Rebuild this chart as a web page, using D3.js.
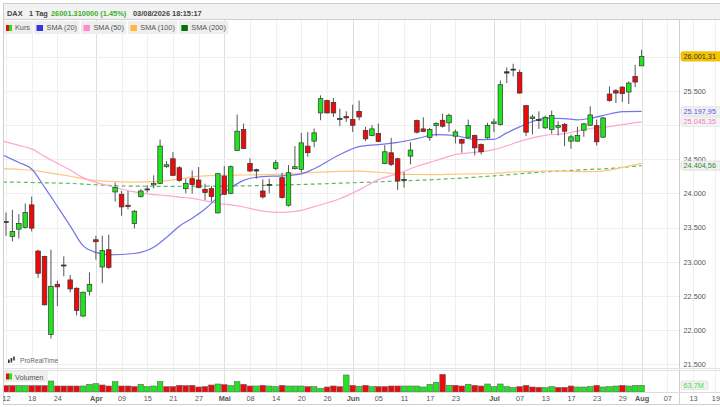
<!DOCTYPE html>
<html lang="de">
<meta charset="utf-8">
<title>DAX 1 Tag</title>
<style>
    body { margin: 0; background: #fff; }
    svg  { display: block; font-family: "Liberation Sans", Arial, sans-serif; }
</style>
<body>
<svg id="canvas"></svg>
<script src="https://cdn.jsdelivr.net/npm/d3@7"></script>
<script>

    ///////////////////// Data ////////////////////////
    // daily candles, index 0 = 12 Mar ... index 99 = 03 Aug
    var opens  = [23573,23369,23476,23500,23831,23156,23078,21938,22670,22952,
                  22734,22612,22205,22569,23321,22923,23175,24020,23986,23826,
                  23559,23952,24054,24122,24146,24389,24505,24374,24068,24214,
                  24195,24059,24068,23714,24253,24000,24627,24932,24437,24326,
                  24034,24122,24365,24229,23826,24360,24350,24690,24763,25175,
                  25355,25330,25083,25122,25078,25199,24918,24845,24874,24437,
                  24593,24505,24199,24544,25063,24942,24816,24991,25068,25030,
                  24835,24787,24811,24845,24714,24811,25020,25005,25758,25806,
                  25767,25282,25093,25078,24957,24932,24966,25005,24763,24763,
                  24923,24995,24991,24821,25452,25500,25554,25481,25709,25864];
    var highs  = [23719,23758,23695,23850,23952,23175,23088,23175,22724,23078,
                  22806,22627,22564,22845,23379,23379,23394,24156,24034,24034,
                  23758,24059,24117,24263,24787,24471,24602,24398,24214,24335,
                  24384,24141,24107,24297,24398,24408,25151,25020,24510,24360,
                  24204,24214,24486,24301,24413,24690,24884,24894,24947,25432,
                  25369,25394,25238,25199,25296,25355,24971,24995,25020,24704,
                  24811,24520,24311,24748,25078,25112,24957,25039,25165,25165,
                  24932,24801,25078,24860,24729,25030,25093,25651,25840,25894,
                  25806,25282,25151,25199,25136,25209,25054,25030,24860,24971,
                  25030,25272,25078,25117,25563,25525,25563,25636,25879,26097];
    var lows   = [23379,23297,23340,23486,23442,22763,22360,21874,22350,22787,
                  22554,22214,22195,22505,23030,22685,22894,23879,23670,23767,
                  23486,23937,24010,24073,24136,24374,24253,24170,24000,23996,
                  24073,23903,23879,23704,23976,23986,24617,24650,24311,24214,
                  23923,24000,24340,23923,23806,24350,24301,24534,24675,25068,
                  25170,25117,24981,25044,24898,25068,24763,24835,24748,24428,
                  24398,24049,24083,24423,24874,24898,24767,24835,24962,24898,
                  24729,24593,24801,24554,24568,24796,24894,24991,25612,25709,
                  25457,24835,24860,24942,24942,24869,24845,24690,24651,24753,
                  24826,24991,24699,24811,25340,25321,25335,25306,25554,25864];
    var closes = [23588,23442,23559,23719,23491,22831,22370,22641,22632,22945,
                  22602,22287,22554,22670,23292,23166,22918,24083,23801,23806,
                  23738,24034,24064,24146,24690,24418,24263,24190,24146,24127,
                  24083,24010,23952,24287,23986,24389,24908,24656,24326,24345,
                  23947,24131,24447,23937,24301,24389,24738,24593,24884,25384,
                  25175,25175,25093,25102,24995,25117,24796,24942,24758,24607,
                  24423,24180,24204,24632,24894,24903,24932,25020,24981,25141,
                  24898,24733,24991,24665,24607,24991,25044,25588,25777,25816,
                  25466,24894,25117,25063,25112,25136,24991,24908,24826,24845,
                  25015,25146,24753,25102,25355,25466,25457,25612,25627,26001.31];

    // volume in millions, and bar colour (1 = up, 0 = down)
    var volumes = [60.5,60.5,60.5,60.5,60.5,60.5,60.5,105,57.3,57.3,
                   57.3,57.3,57.3,73.3,79.6,66.9,57.3,98.7,57.3,57.3,
                   51.0,73.3,51.0,57.3,98.7,51.0,51.0,63.7,60.5,63.7,
                   47.8,51.0,66.9,76.4,70.1,60.5,98.7,73.3,57.3,57.3,
                   63.7,57.3,51.0,63.7,57.3,57.3,57.3,51.0,51.0,35.0,
                   47.8,57.3,51.0,162.4,63.7,54.1,63.7,51.0,51.0,51.0,
                   57.3,57.3,57.3,57.3,57.3,47.8,73.3,92.4,168.8,63.7,
                   63.7,57.3,73.3,63.7,57.3,76.4,51.0,76.4,51.0,41.4,
                   51.0,63.7,47.8,44.6,41.4,51.0,44.6,44.6,57.3,47.8,
                   47.8,51.0,63.7,47.8,51.0,57.3,63.7,57.3,63.7,63.7];
    var volUp   = [0,0,1,1,0,0,0,1,0,0, 0,0,1,1,1,0,0,1,0,0,
                   0,1,1,1,1,0,0,0,0,0, 0,0,0,1,0,1,1,0,0,1,
                   0,1,1,0,1,1,1,0,1,1, 0,0,0,1,0,1,0,1,0,0,
                   0,0,1,1,1,1,1,1,0,1, 0,0,1,0,0,1,1,1,1,1,
                   0,0,0,0,1,1,0,0,0,1, 1,1,0,1,1,1,0,1,1,1];

    // moving averages at these candle positions
    var smaIdx = [-0.5,2,4,6,8,10,12,14,16,20,23,25,27,29,31,33,35,37,40,43,
                  46,48,52,55,58,61,64,67,70,73,76,78,80,82,84,87,89,91,94,96,99];
    var sma20  = [24560,24450,24355,24090,23810,23525,23234,23136,23100,23120,
                  23210,23355,23520,23635,23770,23940,24080,24190,24245,24255,
                  24285,24360,24568,24682,24712,24745,24800,24858,24845,24785,
                  24790,24884,24971,25050,25100,25093,25075,25095,25160,25195,25197.95];
    var sma50  = [24765,24700,24650,24540,24440,24340,24230,24160,24110,24020,
                  23980,23965,23945,23925,23890,23855,23830,23800,23740,23720,
                  23750,23805,23920,24050,24200,24285,24395,24480,24565,24598,
                  24640,24695,24760,24810,24848,24872,24910,24948,24975,25005,25045.35];
    var sma100 = [24360,24350,24337,24310,24280,24250,24215,24185,24175,24165,
                  24172,24185,24210,24240,24255,24262,24265,24268,24274,24282,
                  24292,24305,24322,24325,24308,24285,24275,24272,24282,24283,
                  24290,24305,24315,24322,24326,24323,24318,24316,24340,24378,24437];
    var sma200 = [24165,24162,24158,24154,24150,24145,24135,24125,24115,24105,
                  24103,24102,24103,24104,24105,24106,24107,24108,24115,24122,
                  24129,24135,24148,24158,24168,24180,24190,24202,24217,24235,
                  24255,24270,24285,24300,24315,24330,24340,24350,24362,24380,24404.56];

    // date axis
    var tickIdx    = [0,4,8,14,18,22,26,30,34,38,42,46,50,54,58,62,66,70,
                      76,80,84,88,92,96,99,103,107,110.5];
    var tickLabels = ["12","18","24","Apr","09","15","21","27","Mai","08","14","20","26","Jun",
                      "05","11","17","23","Jul","07","13","17","23","29","Aug","07","13","19"];
    var monthLabels = ["Apr","Mai","Jun","Jul","Aug"];
    var priceTicks = [21500,22000,22500,23000,23500,24000,24500,25000,25500,26000];
    // ticks whose label sits under a value box
    var hiddenTicks = [25000,26000];

    var seriesNames = ["Kurs","SMA (20)","SMA (50)","SMA (100)","SMA (200)"];
    ///////////////////////////////////////////////////

    ///////// Position and Dimension Variables ////////
    var dimensions  = [720, 407];
    var frame_l     = 3.5;
    var frame_t     = 3.5;
    var frame_b     = 404.5;
    var head_h      = 16;
    var plot_top    = 20;
    var plot_bot    = 368;
    var axis_x      = 679.5;
    var vol_top     = 370;
    var vol_bot     = 392;
    var body_w      = 4.6;
    var vbar_w      = 5.6;
    ///////////////////////////////////////////////////

    ///////////////// Style Variables /////////////////
    var up_color     = '#1ee61e';
    var down_color   = '#ee0a0a';
    var edge_color   = '#333';
    var wick_color   = '#555';
    var grid_color   = '#efefef';
    var month_grid   = '#dedede';
    var line_color   = '#cfcfcf';
    var text_color   = '#555';
    var head_color   = '#444';
    var head_green   = '#3aae2a';
    var sma_colors   = ['#7474ec', '#ffa6d2', '#ffc77e', '#5cb85c'];
    var swatches     = [null, '#3535dc', '#ff8cc6', '#ffb83a', '#0a6e0a'];
    var label_colors = ['#5656e6', '#f27cba', null, '#2f8a2f'];
    var font_size    = 7.3;
    ///////////////////////////////////////////////////

    var de = d3.formatLocale({decimal: ",", thousands: ".", grouping: [3], currency: ["", "€"]});
    var fmtTick  = de.format(",.0f");
    var fmtValue = de.format(",.2f");
    var fmtVol   = de.format(".1f");

    var xScale = d3.scaleLinear().domain([0, 99]).range([6, 641.6]);
    var yScale = d3.scaleLinear().domain([21446, 26534]).range([plot_bot, plot_top]);
    var vScale = d3.scaleLinear().domain([0, 210]).range([vol_bot, vol_top]);

    var canvas = d3.select("#canvas")
        .attr('width',  dimensions[0])
        .attr('height', dimensions[1])
        .style('background-color', '#fff');

    canvas.append("clipPath").attr('id', 'plotclip')
        .append("rect")
        .attr('x', frame_l).attr('y', plot_top)
        .attr('width', axis_x - frame_l).attr('height', plot_bot - plot_top);

    //////////////////// grid /////////////////////////
    var grid = canvas.append("g");
    grid.selectAll(".vgrid")
        .data(tickIdx)
        .enter().append("line")
        .attr('x1', function (d) { return Math.round(xScale(d)) + 0.5; })
        .attr('x2', function (d) { return Math.round(xScale(d)) + 0.5; })
        .attr('y1', plot_top)
        .attr('y2', vol_bot)
        .attr('stroke', function (d, i) {
            return monthLabels.indexOf(tickLabels[i]) >= 0 ? month_grid : grid_color;
        });
    grid.selectAll(".hgrid")
        .data(priceTicks)
        .enter().append("line")
        .attr('x1', frame_l)
        .attr('x2', axis_x)
        .attr('y1', function (d) { return Math.round(yScale(d)) + 0.5; })
        .attr('y2', function (d) { return Math.round(yScale(d)) + 0.5; })
        .attr('stroke', grid_color);
    ///////////////////////////////////////////////////

    //////////////// moving averages //////////////////
    var plot = canvas.append("g").attr('clip-path', 'url(#plotclip)');
    [sma200, sma100, sma50, sma20].forEach(function (series, k) {
        var ci = 3 - k;
        var line = d3.line()
            .x(function (d, i) { return xScale(smaIdx[i]); })
            .y(function (d) { return yScale(d); })
            .curve(d3.curveMonotoneX);
        plot.append("path")
            .datum(series)
            .attr('d', line)
            .attr('fill', 'none')
            .attr('stroke', sma_colors[ci])
            .attr('stroke-width', 1.2)
            .attr('stroke-dasharray', ci == 3 ? '4,3' : null);
    });
    ///////////////////////////////////////////////////

    //////////////////// candles //////////////////////
    var candles = plot.selectAll(".candle")
        .data(closes)
        .enter().append("g");
    candles.append("line")
        .attr('x1', function (d, i) { return xScale(i); })
        .attr('x2', function (d, i) { return xScale(i); })
        .attr('y1', function (d, i) { return yScale(highs[i]); })
        .attr('y2', function (d, i) { return yScale(lows[i]); })
        .attr('stroke', wick_color)
        .attr('stroke-width', 1);
    candles.append("rect")
        .attr('x', function (d, i) { return xScale(i) - body_w / 2; })
        .attr('y', function (d, i) { return yScale(Math.max(opens[i], d)); })
        .attr('width', body_w)
        .attr('height', function (d, i) {
            return Math.max(1, Math.abs(yScale(opens[i]) - yScale(d)));
        })
        .attr('fill', function (d, i) {
            if (Math.abs(yScale(opens[i]) - yScale(d)) < 1.3) return edge_color;
            return d >= opens[i] ? up_color : down_color;
        })
        .attr('stroke', edge_color)
        .attr('stroke-width', 0.7);
    ///////////////////////////////////////////////////

    //////////////////// volume ///////////////////////
    canvas.append("g").selectAll("rect")
        .data(volumes)
        .enter().append("rect")
        .attr('x', function (d, i) { return xScale(i) - vbar_w / 2; })
        .attr('y', function (d) { return vScale(d); })
        .attr('width', vbar_w)
        .attr('height', function (d) { return vol_bot - vScale(d); })
        .attr('fill', function (d, i) { return volUp[i] ? up_color : down_color; })
        .attr('stroke', '#666')
        .attr('stroke-width', 0.6);
    ///////////////////////////////////////////////////

    //////////////////// frame lines //////////////////
    var frame = canvas.append("g").attr('stroke', line_color).attr('fill', 'none');
    frame.append("rect")
        .attr('x', frame_l).attr('y', frame_t)
        .attr('width', dimensions[0] + 5).attr('height', frame_b - frame_t);
    frame.append("line")
        .attr('x1', axis_x).attr('x2', axis_x)
        .attr('y1', plot_top).attr('y2', frame_b);
    frame.append("line")
        .attr('x1', frame_l).attr('x2', dimensions[0])
        .attr('y1', plot_bot + 0.5).attr('y2', plot_bot + 0.5)
        .attr('stroke', '#e2e2e2');
    frame.append("line")
        .attr('x1', frame_l).attr('x2', dimensions[0])
        .attr('y1', vol_top + 0.5).attr('y2', vol_top + 0.5)
        .attr('stroke', '#e2e2e2');
    frame.append("line")
        .attr('x1', frame_l).attr('x2', dimensions[0])
        .attr('y1', vol_bot + 0.5).attr('y2', vol_bot + 0.5)
        .attr('stroke', '#dcdcdc');
    ///////////////////////////////////////////////////

    ////////////////// price axis /////////////////////
    var yAxis = d3.axisRight(yScale)
        .tickValues(priceTicks)
        .tickFormat(fmtTick)
        .tickSize(0)
        .tickPadding(4);
    var yAxisG = canvas.append("g")
        .attr('transform', 'translate(' + axis_x + ',0)')
        .call(yAxis);
    yAxisG.select(".domain").remove();
    yAxisG.selectAll(".tick")
        .filter(function (d) { return hiddenTicks.indexOf(d) >= 0; })
        .select("text").remove();
    yAxisG.selectAll("text")
        .attr('fill', text_color)
        .attr('font-size', font_size)
        .attr('font-family', '"Liberation Sans", Arial, sans-serif');
    ///////////////////////////////////////////////////

    ////////////////// date axis //////////////////////
    var xAxis = d3.axisBottom(xScale)
        .tickValues(tickIdx)
        .tickFormat(function (d, i) { return tickLabels[i]; })
        .tickSize(0)
        .tickPadding(4);
    var xAxisG = canvas.append("g")
        .attr('transform', 'translate(0,' + vol_bot + ')')
        .call(xAxis);
    xAxisG.select(".domain").remove();
    xAxisG.selectAll("text")
        .attr('fill', text_color)
        .attr('font-size', font_size)
        .attr('font-family', '"Liberation Sans", Arial, sans-serif')
        .attr('font-weight', function (d, i) {
            return monthLabels.indexOf(tickLabels[i]) >= 0 ? 'bold' : 'normal';
        });
    ///////////////////////////////////////////////////

    ///////////////// value labels ////////////////////
    function valueBox(value, text, fill, stroke, color, weight) {
        var y = yScale(value);
        canvas.append("rect")
            .attr('x', axis_x + 1.5).attr('y', y - 4.6)
            .attr('width', 50).attr('height', 9.2)
            .attr('rx', 2)
            .attr('fill', fill).attr('stroke', stroke).attr('stroke-width', 0.7);
        canvas.append("text")
            .attr('x', axis_x + 4).attr('y', y + 2.6)
            .text(text)
            .attr('fill', color)
            .attr('font-size', font_size)
            .attr('font-weight', weight || 'normal');
    }
    valueBox(sma200[sma200.length - 1], fmtValue(sma200[sma200.length - 1]), '#f1f1f1', '#dadada', label_colors[3]);
    valueBox(sma50[sma50.length - 1],   fmtValue(sma50[sma50.length - 1]),   '#f4f4f4', '#e2e2e2', label_colors[1]);
    valueBox(sma20[sma20.length - 1],   fmtValue(sma20[sma20.length - 1]),   '#f1f1f1', '#dadada', label_colors[0]);
    valueBox(closes[closes.length - 1], fmtValue(closes[closes.length - 1]), '#f6c500', '#e2b200', '#333');

    var lastVol = volumes[volumes.length - 1];
    canvas.append("rect")
        .attr('x', axis_x + 1.5).attr('y', vScale(lastVol) - 4.4)
        .attr('width', 27).attr('height', 8.8).attr('rx', 2)
        .attr('fill', '#f1f1f1').attr('stroke', '#dcdcdc').attr('stroke-width', 0.7);
    canvas.append("text")
        .attr('x', axis_x + 4).attr('y', vScale(lastVol) + 2.6)
        .text(fmtVol(lastVol) + "M")
        .attr('fill', '#3ee03e')
        .attr('font-size', font_size);
    ///////////////////////////////////////////////////

    //////////////////// header ///////////////////////
    canvas.append("rect")
        .attr('x', frame_l).attr('y', frame_t)
        .attr('width', dimensions[0]).attr('height', head_h)
        .attr('fill', '#f2f2f2').attr('stroke', line_color);
    var head = canvas.append("g")
        .attr('font-size', 7.4)
        .attr('font-weight', 'bold')
        .attr('fill', head_color);
    head.append("text").attr('x', 7).attr('y', 16.2).text("DAX");
    head.append("text").attr('x', 29).attr('y', 16.2).text("1 Tag");
    head.append("text").attr('x', 51).attr('y', 16.2).attr('fill', head_green)
        .text("26001.310000 (1.45%)");
    head.append("text").attr('x', 133).attr('y', 16.2).text("03/08/2026 18:15:17");
    ///////////////////////////////////////////////////

    //////////////////// legend ///////////////////////
    var lx = 4;
    seriesNames.forEach(function (name, i) {
        var g = canvas.append("g");
        var box = g.append("rect")
            .attr('x', lx).attr('y', 21)
            .attr('height', 13)
            .attr('fill', '#eeeeee');
        var tx = g.append("text")
            .attr('x', lx + (i == 0 ? 11 : 12.5)).attr('y', 30.3)
            .text(name)
            .attr('fill', text_color)
            .attr('font-size', font_size);
        if (i == 0) {
            g.append("rect").attr('x', lx + 2).attr('y', 25).attr('width', 3)
                .attr('height', 6).attr('fill', down_color);
            g.append("rect").attr('x', lx + 5).attr('y', 25).attr('width', 3)
                .attr('height', 6).attr('fill', up_color);
        } else {
            g.append("rect").attr('x', lx + 2.5).attr('y', 25).attr('width', 6.5)
                .attr('height', 6).attr('fill', swatches[i]);
        }
        var w = (i == 0 ? 11 : 12.5) + tx.node().getComputedTextLength() + 2.5;
        box.attr('width', w);
        lx += w + 1.5;
    });

    var vl = canvas.append("g");
    vl.append("rect").attr('x', 4).attr('y', 371).attr('width', 44).attr('height', 11)
        .attr('fill', '#eeeeee');
    vl.append("rect").attr('x', 6).attr('y', 373.5).attr('width', 3).attr('height', 6)
        .attr('fill', down_color);
    vl.append("rect").attr('x', 9).attr('y', 373.5).attr('width', 3).attr('height', 6)
        .attr('fill', up_color);
    vl.append("text").attr('x', 15).attr('y', 379.6).text("Volumen")
        .attr('fill', text_color).attr('font-size', font_size);
    ///////////////////////////////////////////////////

    ////////////////// ProRealTime mark ///////////////
    var logo = canvas.append("g").attr('fill', '#333');
    logo.append("rect").attr('x', 8).attr('y', 359.5).attr('width', 1.6).attr('height', 3.5);
    logo.append("rect").attr('x', 10.6).attr('y', 358).attr('width', 1.6).attr('height', 4.5);
    logo.append("rect").attr('x', 13.2).attr('y', 356.5).attr('width', 1.6).attr('height', 4);
    canvas.append("text").attr('x', 20).attr('y', 362.5).text("ProRealTime")
        .attr('fill', '#666').attr('font-size', 6.6);
    ///////////////////////////////////////////////////

</script>
</body>
</html>
